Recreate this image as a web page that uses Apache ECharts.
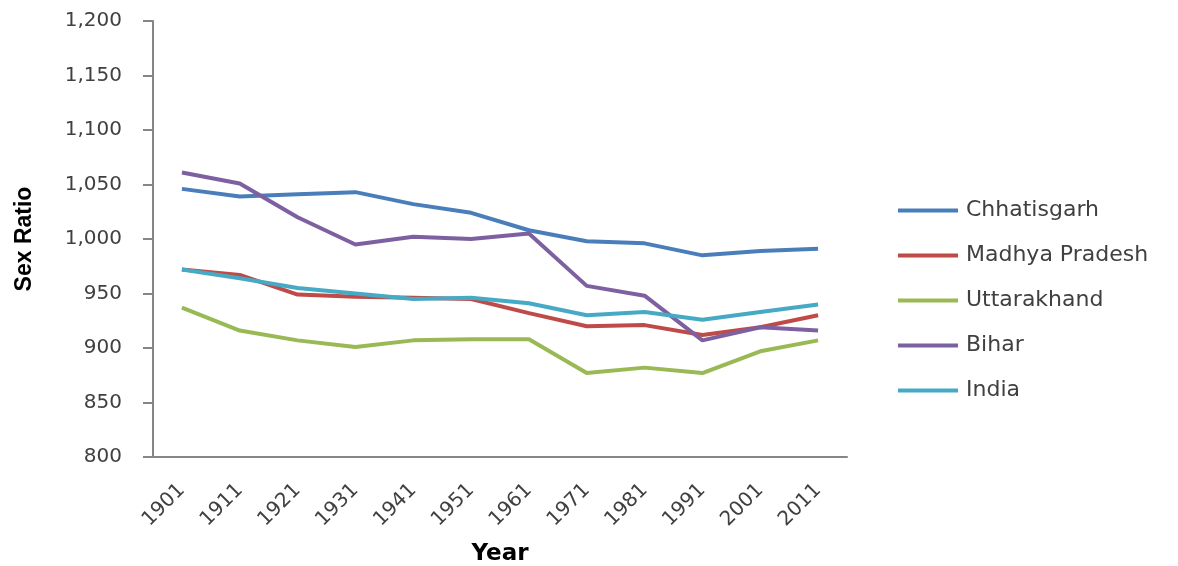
<!DOCTYPE html>
<html>
<head>
<meta charset="utf-8">
<script src="https://cdn.jsdelivr.net/npm/echarts@6/dist/echarts.min.js"></script>
<style>
  html, body { margin: 0; padding: 0; background: #ffffff; }
  #chart { width: 1178px; height: 566px; }
</style>
</head>
<body>
<div id="chart"></div>
<script>
// Census years
const years = ['1901', '1911', '1921', '1931', '1941', '1951', '1961', '1971', '1981', '1991', '2001', '2011'];

// Sex ratio (females per 1000 males)
const chhatisgarh   = [1046, 1039, 1041, 1043, 1032, 1024, 1008, 998, 996, 985, 989, 991];
const madhyaPradesh = [972, 967, 949, 947, 946, 945, 932, 920, 921, 912, 919, 930];
const uttarakhand   = [937, 916, 907, 901, 907, 908, 908, 877, 882, 877, 897, 907];
const bihar         = [1061, 1051, 1020, 995, 1002, 1000, 1005, 957, 948, 907, 919, 916];
const india         = [972, 964, 955, 950, 945, 946, 941, 930, 933, 926, 933, 940];

const seriesNames = ['Chhatisgarh', 'Madhya Pradesh', 'Uttarakhand', 'Bihar', 'India'];
const seriesData = [chhatisgarh, madhyaPradesh, uttarakhand, bihar, india];
const seriesColors = ['#4a7ebb', '#be4b48', '#98b954', '#7d60a0', '#46aac5'];

const chart = echarts.init(document.getElementById('chart'), null, { renderer: 'canvas' });

const textColor = '#404040';
const fontFamily = 'DejaVu Sans, Verdana, sans-serif';

chart.setOption({
  animation: false,
  backgroundColor: '#ffffff',
  grid: { left: 153, right: 331, top: 21, bottom: 109, outerBoundsMode: 'none', containLabel: false },
  legend: {
    orient: 'vertical',
    left: 893,
    top: 193,
    icon: 'rect',
    itemWidth: 60,
    itemHeight: 4,
    itemGap: 20,
    data: seriesNames,
    textStyle: { color: textColor, fontSize: 22, fontFamily: fontFamily, lineHeight: 25, padding: [0, 0, 0, 3] }
  },
  xAxis: {
    type: 'category',
    data: years,
    boundaryGap: true,
    name: 'Year',
    nameLocation: 'middle',
    nameGap: 86,
    nameMoveOverlap: false,
    nameTextStyle: { color: '#000000', fontSize: 23, fontWeight: 'bold', fontFamily: fontFamily },
    axisLine: { show: true, lineStyle: { color: '#868686', width: 2 } },
    axisTick: { show: false },
    axisLabel: {
      rotate: 45,
      margin: 30,
      interval: 0,
      color: textColor,
      fontSize: 20,
      fontFamily: fontFamily
    },
    splitLine: { show: false }
  },
  yAxis: {
    type: 'value',
    min: 800,
    max: 1200,
    interval: 50,
    name: 'Sex Ratio',
    nameLocation: 'middle',
    nameGap: 117,
    nameMoveOverlap: false,
    nameRotate: 90,
    nameTextStyle: { color: '#000000', fontSize: 23, fontWeight: 'bold', fontFamily: 'Liberation Sans, Arial, sans-serif' },
    axisLine: { show: true, lineStyle: { color: '#868686', width: 2 } },
    axisTick: { show: true, inside: false, length: 10, lineStyle: { color: '#868686', width: 2 } },
    axisLabel: {
      margin: 31,
      color: textColor,
      fontSize: 20,
      fontFamily: fontFamily,
      formatter: function (v) { return v.toLocaleString('en-US'); }
    },
    splitLine: { show: false }
  },
  series: seriesNames.map(function (name, i) {
    return {
      name: name,
      type: 'line',
      data: seriesData[i],
      color: seriesColors[i],
      showSymbol: false,
      symbol: 'none',
      smooth: false,
      lineStyle: { width: 4, color: seriesColors[i] },
      emphasis: { disabled: true }
    };
  })
});
</script>
</body>
</html>
